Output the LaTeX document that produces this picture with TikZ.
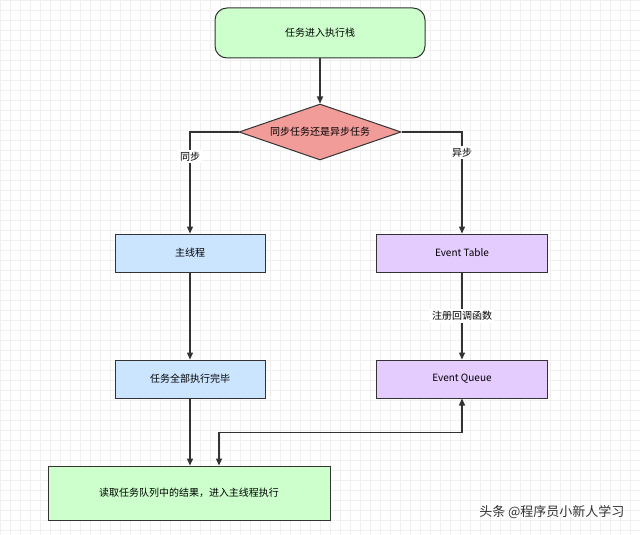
\documentclass[tikz,border=0pt]{standalone}
\usepackage{fontspec}
\newfontfamily\cjk{Noto Sans CJK SC}
\usetikzlibrary{shapes.geometric,arrows.meta}
\definecolor{gfill}{HTML}{CCFFCC}
\definecolor{rfill}{HTML}{F19C99}
\definecolor{bfill}{HTML}{CCE5FF}
\definecolor{pfill}{HTML}{E5CCFF}
\definecolor{edge}{HTML}{333333}
\begin{document}
\begin{tikzpicture}[x=1pt,y=-1pt,font=\cjk\fontsize{10}{12}\selectfont,
  box/.style={draw=edge,line width=1pt,minimum height=38pt,inner sep=0pt},
  conn/.style={draw=edge,line width=1.4pt,-{Triangle[length=7pt,width=6pt]}},
  lab/.style={fill=white,inner sep=2pt}]
\fill[white] (0,0) rectangle (640,535);
\useasboundingbox (0,0) rectangle (640,535);
\draw[black!6,line width=0.3pt] (0,0) grid[step=10pt] (640,535);
\node[box,fill=gfill,rounded corners=12pt,minimum width=210pt,minimum height=50pt] (start) at (320,33) {任务进入执行栈};
\node[draw=edge,line width=1pt,fill=rfill,diamond,aspect=2.9,minimum width=162pt,minimum height=56pt,inner sep=0pt] (dec) at (320,132) {同步任务还是异步任务};
\node[box,fill=bfill,minimum width=150pt] (main) at (190,253) {主线程};
\node[box,fill=pfill,minimum width=171pt] (et) at (462,253) {Event Table};
\node[box,fill=bfill,minimum width=150pt] (done) at (190,379) {任务全部执行完毕};
\node[box,fill=pfill,minimum width=171pt] (eq) at (462,379) {Event Queue};
\node[box,fill=gfill,minimum width=282pt,minimum height=54pt] (read) at (189,493) {读取任务队列中的结果，进入主线程执行};
\draw[conn] (start) -- (dec);
\draw[conn] (dec.west) -| node[lab,pos=0.62]{同步} (main);
\draw[conn] (dec.east) -| node[lab,pos=0.6]{异步} (et);
\draw[conn] (et) -- node[lab]{注册回调函数} (eq);
\draw[conn] (main) -- (done);
\draw[conn] (done) -- (done|-read.north);
\coordinate (rj) at (219,0);
\draw[conn,{Triangle[length=7pt,width=6pt]}-{Triangle[length=7pt,width=6pt]}] (rj|-read.north) -- ++(0,-33) -| (eq.south);
\node[font=\cjk\fontsize{13}{15}\selectfont,text=black!80,anchor=east] (wm) at (628,512) {头条 @程序员小新人学习};
\end{tikzpicture}
\end{document}
